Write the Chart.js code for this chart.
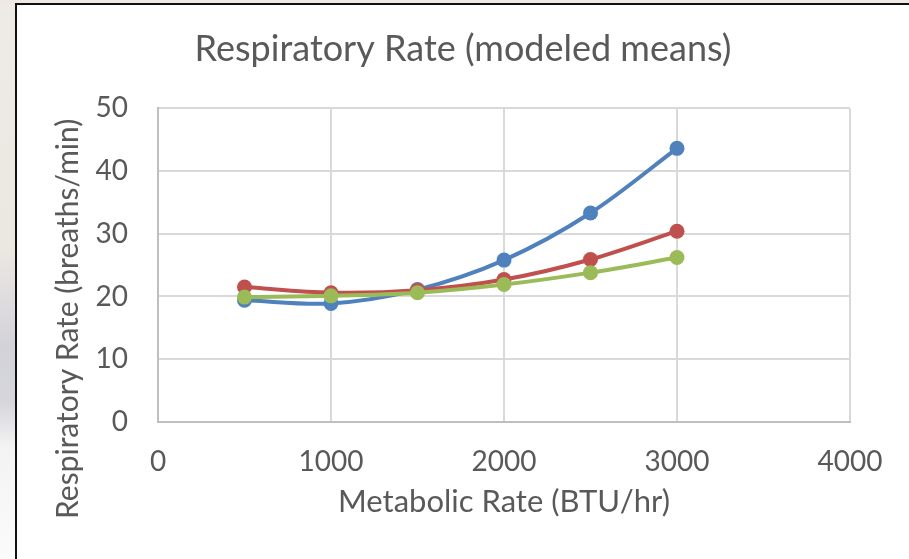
<!DOCTYPE html>
<html>
<head>
<meta charset="utf-8">
<script src="https://cdn.jsdelivr.net/npm/chart.js@4"></script>
<style>
    html, body {
        margin: 0;
        padding: 0;
        width: 909px;
        height: 559px;
        overflow: hidden;
    }
    body {
        /* faded slide background peeking out around the chart */
        background: linear-gradient(to bottom, #efe7e4 0px, #eeeae5 6px, #ebe7e1 45%, #d3d2da 62%, #d6d6dc 72%, #f3f3f3 80%, #fbfbfb 100%);
    }
    #frame {
        position: absolute;
        left: 15px;
        top: 3px;
        width: 900px;
        height: 560px;
        background: #ffffff;
        border-left: 2px solid #111;
        border-top: 2px solid #111;
    }
    #chart {
        display: block;
    }
</style>
</head>
<body>
<div id="frame">
    <canvas id="chart" width="892" height="554"></canvas>
</div>
<script>
// 数据
const metabolicRates = [500, 1000, 1500, 2000, 2500, 3000];
const seriesBlue = [19.4, 18.9, 21.1, 25.8, 33.3, 43.6];
const seriesRed = [21.5, 20.6, 21.0, 22.7, 25.9, 30.4];
const seriesGreen = [19.9, 20.1, 20.6, 21.9, 23.8, 26.2];

const xTicks = [0, 1000, 2000, 3000, 4000];
const yTicks = [0, 10, 20, 30, 40, 50];

const textColor = '#595959';
const fontFamily = 'Lato, "Open Sans", sans-serif';

function toPoints(values) {
    return values.map((v, i) => ({ x: metabolicRates[i], y: v }));
}

function makeDataset(label, values, color, order) {
    return {
        label: label,
        data: toPoints(values),
        borderColor: color,
        backgroundColor: color,
        pointBackgroundColor: color,
        pointBorderColor: color,
        borderWidth: 4,
        pointRadius: 7.5,
        pointBorderWidth: 0,
        tension: 0.33,
        order: order
    };
}

new Chart(document.getElementById('chart'), {
    type: 'line',
    data: {
        datasets: [
            makeDataset('Series 1', seriesBlue, '#4f81bd', 3),
            makeDataset('Series 2', seriesRed, '#c0504d', 2),
            makeDataset('Series 3', seriesGreen, '#9bbb59', 1)
        ]
    },
    options: {
        responsive: false,
        animation: false,
        layout: {
            padding: 0
        },
        plugins: {
            legend: { display: false },
            tooltip: { enabled: false },
            title: {
                display: true,
                text: 'Respiratory Rate (modeled means)',
                color: textColor,
                font: { family: fontFamily, size: 36, weight: 'normal' },
                padding: { top: 23, bottom: 37 }
            }
        },
        scales: {
            x: {
                type: 'linear',
                min: xTicks[0],
                max: xTicks[xTicks.length - 1],
                afterBuildTicks: scale => {
                    scale.ticks = xTicks.map(v => ({ value: v }));
                },
                afterFit: scale => {
                    scale.height = 137;
                },
                grid: {
                    color: '#d9d9d9',
                    lineWidth: 2,
                    drawTicks: false
                },
                border: { color: '#bfbfbf', width: 2 },
                ticks: {
                    color: textColor,
                    padding: 23,
                    font: { family: fontFamily, size: 28 },
                    callback: v => String(v)
                },
                title: {
                    display: true,
                    text: 'Metabolic Rate (BTU/hr)',
                    color: textColor,
                    font: { family: fontFamily, size: 31 },
                    padding: { top: 0, bottom: 38 }
                }
            },
            y: {
                type: 'linear',
                min: yTicks[0],
                max: yTicks[yTicks.length - 1],
                afterBuildTicks: scale => {
                    scale.ticks = yTicks.map(v => ({ value: v }));
                },
                afterFit: scale => {
                    scale.width = 141;
                },
                grid: {
                    color: '#d9d9d9',
                    lineWidth: 2,
                    drawTicks: false
                },
                border: { color: '#bfbfbf', width: 2 },
                ticks: {
                    color: textColor,
                    padding: 30,
                    font: { family: fontFamily, size: 28 },
                    callback: v => String(v)
                },
                title: {
                    display: true,
                    // 末尾空格让文字向下偏移，和原图一致
                    text: 'Respiratory Rate (breaths/min)' + ' '.repeat(14),
                    color: textColor,
                    font: { family: fontFamily, size: 30 },
                    padding: { top: 33, bottom: 0 }
                }
            },
            // 右侧留白用的空轴，让标题在整个图框里居中
            yRight: {
                type: 'linear',
                position: 'right',
                min: yTicks[0],
                max: yTicks[yTicks.length - 1],
                grid: { display: false },
                border: { display: false },
                ticks: { display: false },
                afterFit: scale => {
                    scale.width = 59;
                }
            }
        }
    }
});
</script>
</body>
</html>
